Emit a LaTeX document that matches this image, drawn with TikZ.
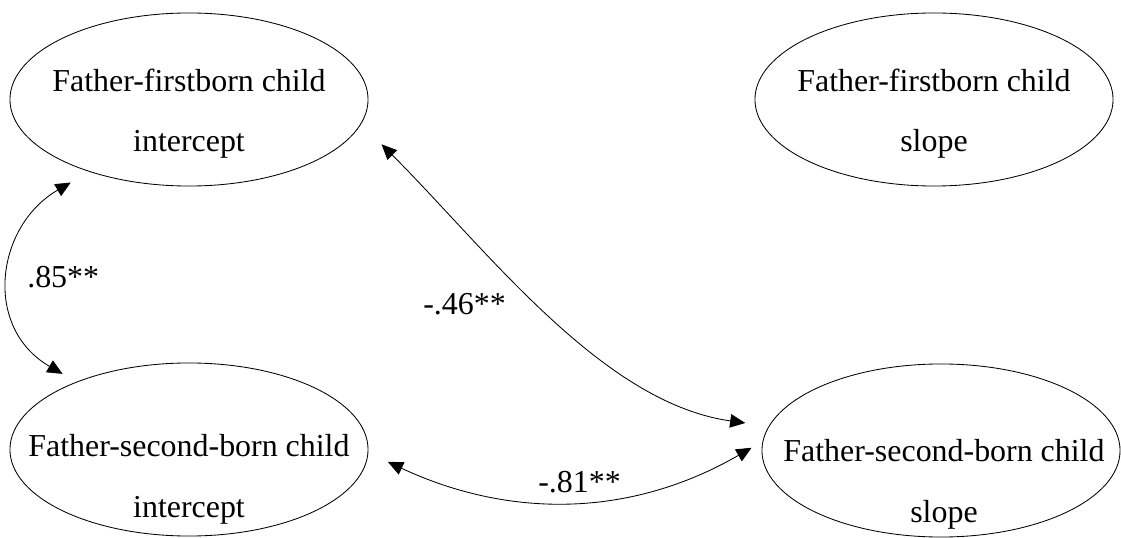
\documentclass[tikz,border=0pt]{standalone}
\usepackage{fontspec}
\setmainfont{Liberation Serif}
\usetikzlibrary{arrows.meta,positioning,calc,shapes.geometric}

\begin{document}
\begin{tikzpicture}[x=0.025cm,y=0.025cm,
  every node/.style={font=\fontsize{22.7}{42.7}\selectfont},
  latent/.style={draw,ellipse,line width=0.6pt,minimum width=8.95cm,minimum height=4.325cm,inner sep=0pt,outer sep=0pt},
  txt/.style={align=center,anchor=base,inner sep=0pt},
  cov/.style={{Triangle[length=0.38cm,width=0.34cm]}-{Triangle[length=0.38cm,width=0.34cm]},line width=0.6pt},
  lbl/.style={anchor=base west,inner sep=0pt}]
\useasboundingbox (0,0) rectangle (1121,-538);
% growth factors
\node[latent] (fi) at (189,-99.5) {};
\node[latent] (fs) at (934,-99.5) {};
\node[latent] (si) at (189,-449.5) {};
\node[latent] (ss) at (941,-450.5) {};
\node[txt] (fi-t) at ($(fi)+(0,-52.5)$) {Father-firstborn child\\intercept};
\node[txt] (fs-t) at ($(fs)+(0,-52.5)$) {Father-firstborn child\\slope};
\node[txt] (si-t) at ($(si)+(0,-67.5)$) {Father-second-born child\\intercept};
\node[txt] (ss-t) at ($(ss)+(3,-71.5)$) {Father-second-born child\\slope};
% correlations
\draw[cov,shorten <=0.55cm,shorten >=0.41cm] (fi.216.5) to[out=210,in=150,looseness=1.32] (si.149.2);
\draw[cov,shorten <=0.73cm,shorten >=0.6cm] (fi.352.8) to[out=-45,in=172,out looseness=0.9,in looseness=0.85] (ss.172);
\draw[cov,shorten <=0.55cm,shorten >=0.33cm] (si.359) to[out=-25,in=210] (ss.177.8);
\node[lbl] (r-fi-si) at (27,-288) {.85**};
\node[lbl] (r-fi-ss) at (423,-315) {-.46**};
\node[lbl] (r-si-ss) at (538,-492) {-.81**};
\end{tikzpicture}
\end{document}
